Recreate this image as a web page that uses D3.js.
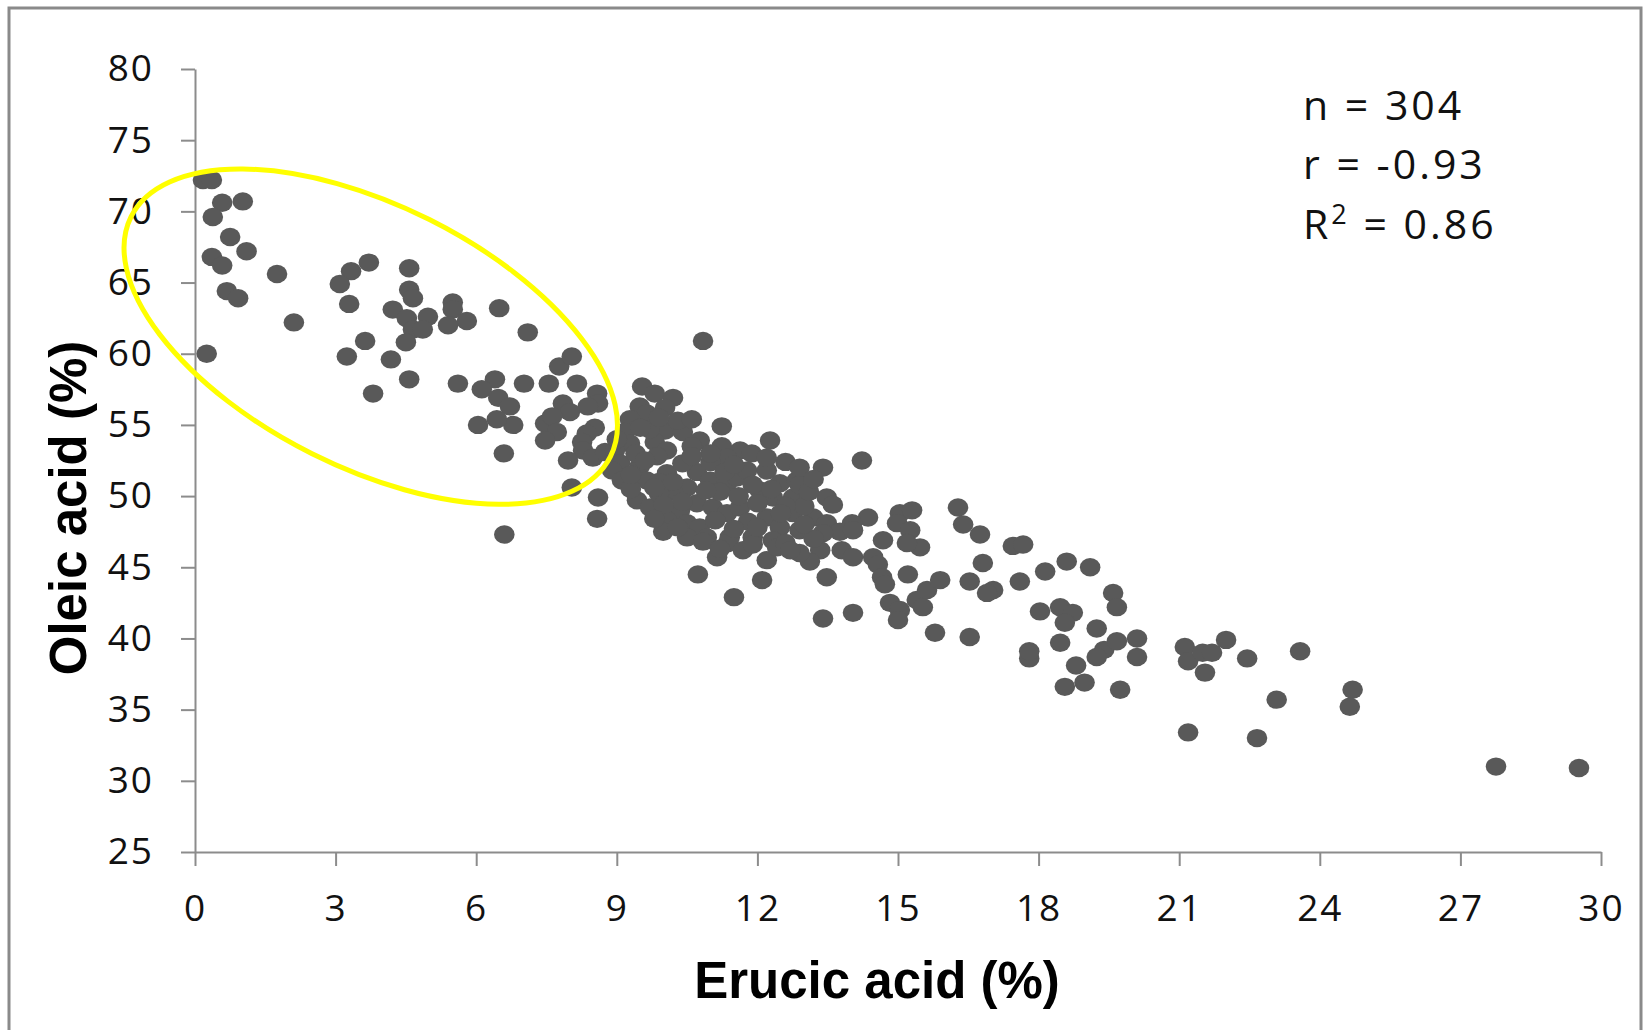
<!DOCTYPE html>
<html>
<head>
<meta charset="utf-8">
<script src="https://cdn.jsdelivr.net/npm/d3@7"></script>
<style>
  body { margin: 0; background: #fff; }
  svg { display: block; }
</style>
</head>
<body>
<div id="chart"></div>
<script>
// values, same order in both arrays
var erucic = [
  0.17,0.36,0.58,1.02,0.38,0.75,1.10,0.36,0.58,1.75,
  0.68,0.92,2.11,0.25,3.71,3.33,3.09,3.29,4.57,4.57,
  4.65,4.22,4.52,4.97,4.65,4.86,4.50,5.50,5.50,5.80,
  5.40,6.49,7.10,3.63,3.24,4.18,4.57,3.80,5.61,6.40,
  6.12,6.47,6.72,6.79,6.44,6.04,7.02,7.55,7.77,7.47,
  6.59,6.60,10.84,8.04,8.15,8.58,8.60,8.38,7.85,8.00,
  7.62,7.72,7.47,8.53,8.36,8.26,8.28,7.96,8.49,8.75,
  8.04,8.60,8.58,9.54,9.81,10.20,10.03,9.49,9.64,9.28,
  9.17,9.28,8.96,9.07,8.90,9.11,10.03,10.41,11.24,12.27,
  13.40,9.81,10.07,9.86,10.77,10.60,11.24,11.63,11.88,11.35,
  9.49,9.64,10.07,10.71,10.99,10.50,10.20,9.43,9.71,11.35,
  11.56,11.78,12.20,12.48,12.84,12.05,12.33,12.76,13.06,13.48,
  10.35,10.71,11.05,11.35,11.63,10.07,10.50,10.77,9.99,10.92,
  11.41,12.20,12.48,12.76,13.19,13.48,12.33,11.90,14.23,13.61,
  14.36,14.02,13.76,14.04,13.40,13.80,14.04,13.34,15.04,15.30,
  14.98,15.26,14.68,15.47,15.19,14.47,14.57,14.66,14.72,13.48,
  15.21,14.83,15.04,15.00,15.40,15.62,15.90,15.53,14.04,13.40,
  15.79,16.53,16.28,16.39,16.75,17.45,17.67,16.81,16.53,17.03,
  16.90,17.60,18.14,18.60,19.10,18.03,18.46,18.73,18.56,19.24,
  18.46,19.59,19.67,19.40,19.67,20.10,20.10,19.74,21.12,21.19,
  21.50,21.70,22.00,21.55,22.45,23.58,23.08,24.70,24.64,21.19,
  22.66,27.76,29.53,10.50,10.84,11.14,10.73,11.50,11.37,11.69,
  11.90,12.20,12.10,12.42,13.12,17.80,17.80,18.80,18.98,18.56,
  19.24,12.90,12.60,9.30,9.90,10.40,11.00,12.60,12.00,11.20,
  13.00,9.70,10.30,12.90,11.80,9.00,9.40,9.60,9.90,10.20,
  9.80,10.40,10.00,10.90,11.30,11.00,10.60,11.50,11.90,11.60,
  12.30,12.60,12.50,13.10,12.90,12.00,11.50,11.10,11.20,12.70,
  13.20,13.00,9.30,9.80,10.30,12.90,12.20,13.20,9.50,9.90,
  10.60
];
var oleic = [
  72.2,72.2,70.6,70.7,69.6,68.2,67.2,66.8,66.2,65.6,
  64.4,63.9,62.2,60.0,66.4,65.8,64.9,63.5,66.0,64.5,
  63.9,63.1,62.5,62.6,61.7,61.7,60.8,63.6,63.1,62.3,
  62.0,63.2,61.5,60.9,59.8,59.6,58.2,57.2,57.9,58.2,
  57.5,56.9,56.3,55.0,55.4,55.0,57.9,57.9,59.1,55.1,
  53.0,47.3,60.9,59.8,57.9,57.2,56.5,56.3,56.5,55.9,
  55.6,54.5,53.9,54.8,54.4,53.8,53.2,52.5,52.7,53.1,
  50.6,49.9,48.4,57.7,57.2,56.9,56.2,56.3,55.8,55.4,
  54.5,53.7,53.2,52.3,51.8,51.1,54.6,54.5,54.9,53.9,
  52.0,53.8,53.2,52.8,53.9,53.5,53.5,53.2,53.0,52.7,
  52.1,51.1,51.6,51.7,51.1,50.6,50.3,49.7,49.2,50.9,
  51.3,51.8,51.8,50.9,51.1,50.4,49.9,49.9,50.4,49.9,
  49.0,49.5,49.2,48.8,49.2,48.3,48.1,47.8,47.5,47.1,
  47.1,48.5,47.8,48.8,48.5,48.1,46.9,47.1,52.5,49.4,
  48.5,48.1,47.5,47.6,47.4,46.2,45.7,46.2,48.8,49.0,
  48.1,47.6,46.9,46.4,46.7,45.7,45.2,44.3,43.8,44.3,
  44.5,42.5,42.0,41.3,42.7,43.4,44.1,42.2,41.8,41.4,
  40.4,40.1,49.2,48.0,47.3,46.5,46.6,45.3,44.0,43.4,
  43.2,44.0,44.7,45.4,45.0,41.9,42.2,41.8,41.1,40.7,
  39.7,43.2,42.2,39.2,39.8,40.0,38.7,36.4,39.4,38.4,
  39.0,39.0,39.9,37.6,38.6,39.1,35.7,36.4,35.2,33.4,
  33.0,31.0,30.9,47.1,46.8,45.7,44.5,42.9,46.7,46.2,
  46.6,45.5,44.1,46.4,45.4,38.6,39.1,38.1,36.9,36.6,
  38.7,46.0,46.7,50.5,50.2,52.3,52.4,52.4,49.5,50.3,
  49.3,54.7,55.3,50.8,48.2,54.0,53.0,52.5,51.0,51.0,
  50.6,49.6,49.4,50.4,51.7,53.0,52.8,52.2,50.8,50.0,
  50.5,49.3,48.8,50.3,47.6,47.8,47.7,48.3,46.3,46.2,
  47.0,48.0,51.5,48.4,47.8,52.0,52.7,51.2,54.8,55.5,
  55.4
];
var xTicks = [0, 3, 6, 9, 12, 15, 18, 21, 24, 27, 30];
var yTicks = [25, 30, 35, 40, 45, 50, 55, 60, 65, 70, 75, 80];
var stats = ["n = 304", "r = -0.93", "R2 = 0.86"];

var width = 1644, height = 1030;

var svg = d3.select("#chart").append("svg")
  .attr("width", width)
  .attr("height", height);

svg.append("rect")
  .attr("width", width).attr("height", height)
  .attr("fill", "#fff");

// outer frame (bottom edge runs off the picture)
svg.append("rect")
  .attr("x", 9).attr("y", 8)
  .attr("width", 1632).attr("height", 1040)
  .attr("fill", "none")
  .attr("stroke", "#8a8a8a")
  .attr("stroke-width", 3);

var x = d3.scaleLinear().domain([0, 30]).range([195, 1601]);
var y = d3.scaleLinear().domain([25, 80]).range([852, 69]);

var tickFont = "'Open Sans', 'Noto Sans', sans-serif";

// x axis
var gx = svg.append("g")
  .attr("transform", "translate(0,852)")
  .call(d3.axisBottom(x).tickValues(xTicks).tickSize(14).tickPadding(29).tickSizeOuter(0));
// y axis
var gy = svg.append("g")
  .attr("transform", "translate(195,0)")
  .call(d3.axisLeft(y).tickValues(yTicks).tickSize(14).tickPadding(27).tickSizeOuter(0));

[gx, gy].forEach(function(g) {
  g.select(".domain").attr("stroke", "#8c8c8c").attr("stroke-width", 2);
  g.selectAll(".tick line").attr("stroke", "#8c8c8c").attr("stroke-width", 2);
  g.selectAll(".tick text")
    .attr("fill", "#111")
    .style("font-family", tickFont)
    .style("font-size", "37px")
    .style("letter-spacing", "2px");
});

// points
svg.append("g")
  .selectAll("ellipse")
  .data(erucic.map(function(d, i) { return [d, oleic[i]]; }))
  .enter().append("ellipse")
    .attr("cx", function(d) { return x(d[0]); })
    .attr("cy", function(d) { return y(d[1]); })
    .attr("rx", 10.3)
    .attr("ry", 9.2)
    .attr("fill", "#595959");

// yellow highlight ellipse
svg.append("ellipse")
  .attr("transform", "translate(" + x(3.75) + "," + y(61.2) + ") rotate(26.6)")
  .attr("rx", 268)
  .attr("ry", 131)
  .attr("fill", "none")
  .attr("stroke", "#ffff00")
  .attr("stroke-width", 5);

// axis titles
svg.append("text")
  .attr("x", 877).attr("y", 998)
  .attr("text-anchor", "middle")
  .style("font-family", "'Liberation Sans', Arial, sans-serif")
  .style("font-weight", "bold")
  .style("font-size", "51px")
  .text("Erucic acid (%)");

svg.append("text")
  .attr("transform", "translate(86,508) rotate(-90)")
  .attr("text-anchor", "middle")
  .style("font-family", "'Liberation Sans', Arial, sans-serif")
  .style("font-weight", "bold")
  .style("font-size", "51px")
  .text("Oleic acid (%)");

// stats box
var st = svg.append("g")
  .style("font-family", tickFont)
  .style("font-size", "41px")
  .style("letter-spacing", "3px")
  .attr("fill", "#111");
st.append("text").attr("x", 1303).attr("y", 120).text(stats[0]);
st.append("text").attr("x", 1303).attr("y", 179).text(stats[1]);
var r2 = st.append("text").attr("x", 1303).attr("y", 239);
r2.append("tspan").text("R");
r2.append("tspan").attr("dy", -15).style("font-size", "27px").text("2");
r2.append("tspan").attr("dy", 15).text(" = 0.86");
</script>
</body>
</html>
